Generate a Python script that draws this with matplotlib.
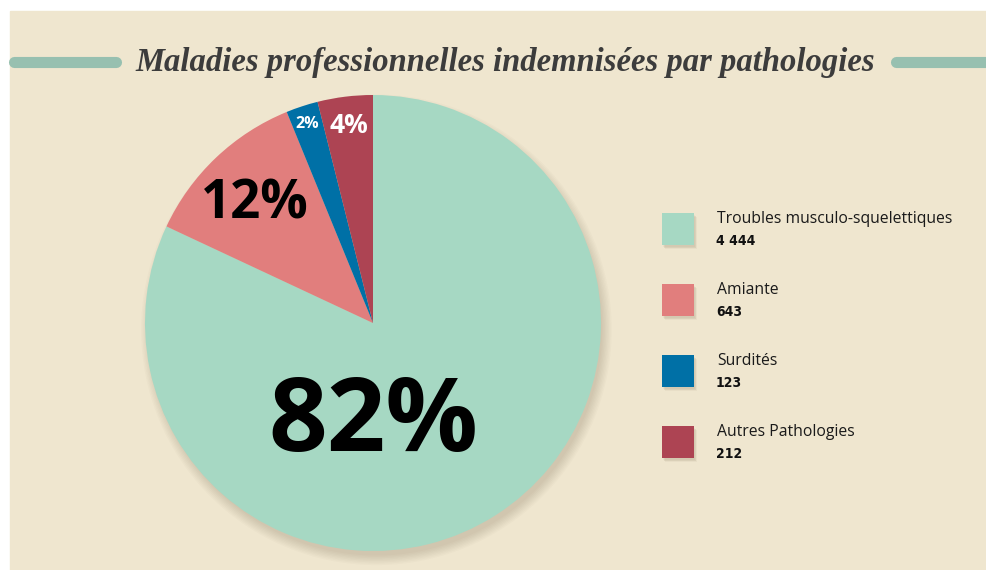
import matplotlib
matplotlib.use("Agg")
import matplotlib.pyplot as plt
from matplotlib.patches import Rectangle, Circle

# data
labels = ["Troubles musculo-squelettiques", "Amiante", "Surdités", "Autres Pathologies"]
values = [4444, 643, 123, 212]
value_txt = ["4 444", "643", "123", "212"]
colors = ["#A6D8C3", "#E17E7D", "#0070A6", "#AD4453"]
title = "Maladies professionnelles indemnisées par pathologies"

W, H = 987, 570
bg = "#EFE6CF"

fig = plt.figure(figsize=(W / 100, H / 100), dpi=100, facecolor="white")

# background axes in pixel coords
back = fig.add_axes([0, 0, 1, 1])
back.set_xlim(0, W)
back.set_ylim(H, 0)
back.axis("off")
back.add_patch(Rectangle((10, 11), W - 10, H - 11, color=bg, zorder=0))

# title with decorative bars
back.plot([14, 116], [62, 62], color="#97C0B0", lw=8, solid_capstyle="round", zorder=1)
back.plot([896, 990], [62, 62], color="#97C0B0", lw=8, solid_capstyle="round", zorder=1)
back.text(505, 62, title, ha="center", va="center", fontsize=23.5,
          family="Liberation Serif", style="italic", weight="bold", color="#3C3C3C")

# legend
for i, (lab, vt, c) in enumerate(zip(labels, value_txt, colors)):
    y0 = 213 + i * 71
    for k in range(4):
        back.add_patch(Rectangle((662 + 1 + k * 0.6, y0 + 2 + k * 0.6), 32, 32,
                                 color="#6b5a3a", alpha=0.05, lw=0, zorder=1))
    back.add_patch(Rectangle((662, y0), 32, 32, color=c, lw=0, zorder=2))
    back.text(717, y0 + 6, lab, ha="left", va="center", fontsize=11.3,
              family="Open Sans", color="#1a1a1a")
    back.text(716, y0 + 28, vt, ha="left", va="center", fontsize=10,
              family="DejaVu Sans", stretch="condensed", weight="bold", color="#111111")

# pie
cx, cy, r = 373, 323, 228
ax = fig.add_axes([(cx - r) / W, (H - cy - r) / H, 2 * r / W, 2 * r / H])
for k in range(8):
    ax.add_patch(Circle((0.015, -0.03), 0.99 + 0.006 * k, color="#5a4a30",
                        alpha=0.025, lw=0, zorder=0, clip_on=False))
wedges, _ = ax.pie(values, colors=colors, startangle=90, counterclock=False,
                   radius=1, wedgeprops=dict(linewidth=0))
ax.set_xlim(-1, 1)
ax.set_ylim(-1, 1)
ax.set_aspect("equal")

total = sum(values)
pcts = ["%d%%" % round(v * 100 / total) for v in values]
lab_pos = [(0.0, -0.445), (-0.52, 0.52), (-0.29, 0.875), (-0.105, 0.865)]
lab_size = [74, 38, 11.5, 19]
lab_col = ["black", "black", "white", "white"]
for p, (x, y), s, c in zip(pcts, lab_pos, lab_size, lab_col):
    ax.text(x, y, p, ha="center", va="center", fontsize=s, weight="bold",
            family="Open Sans", color=c)

fig.savefig("out.png", dpi=100, facecolor="white")
